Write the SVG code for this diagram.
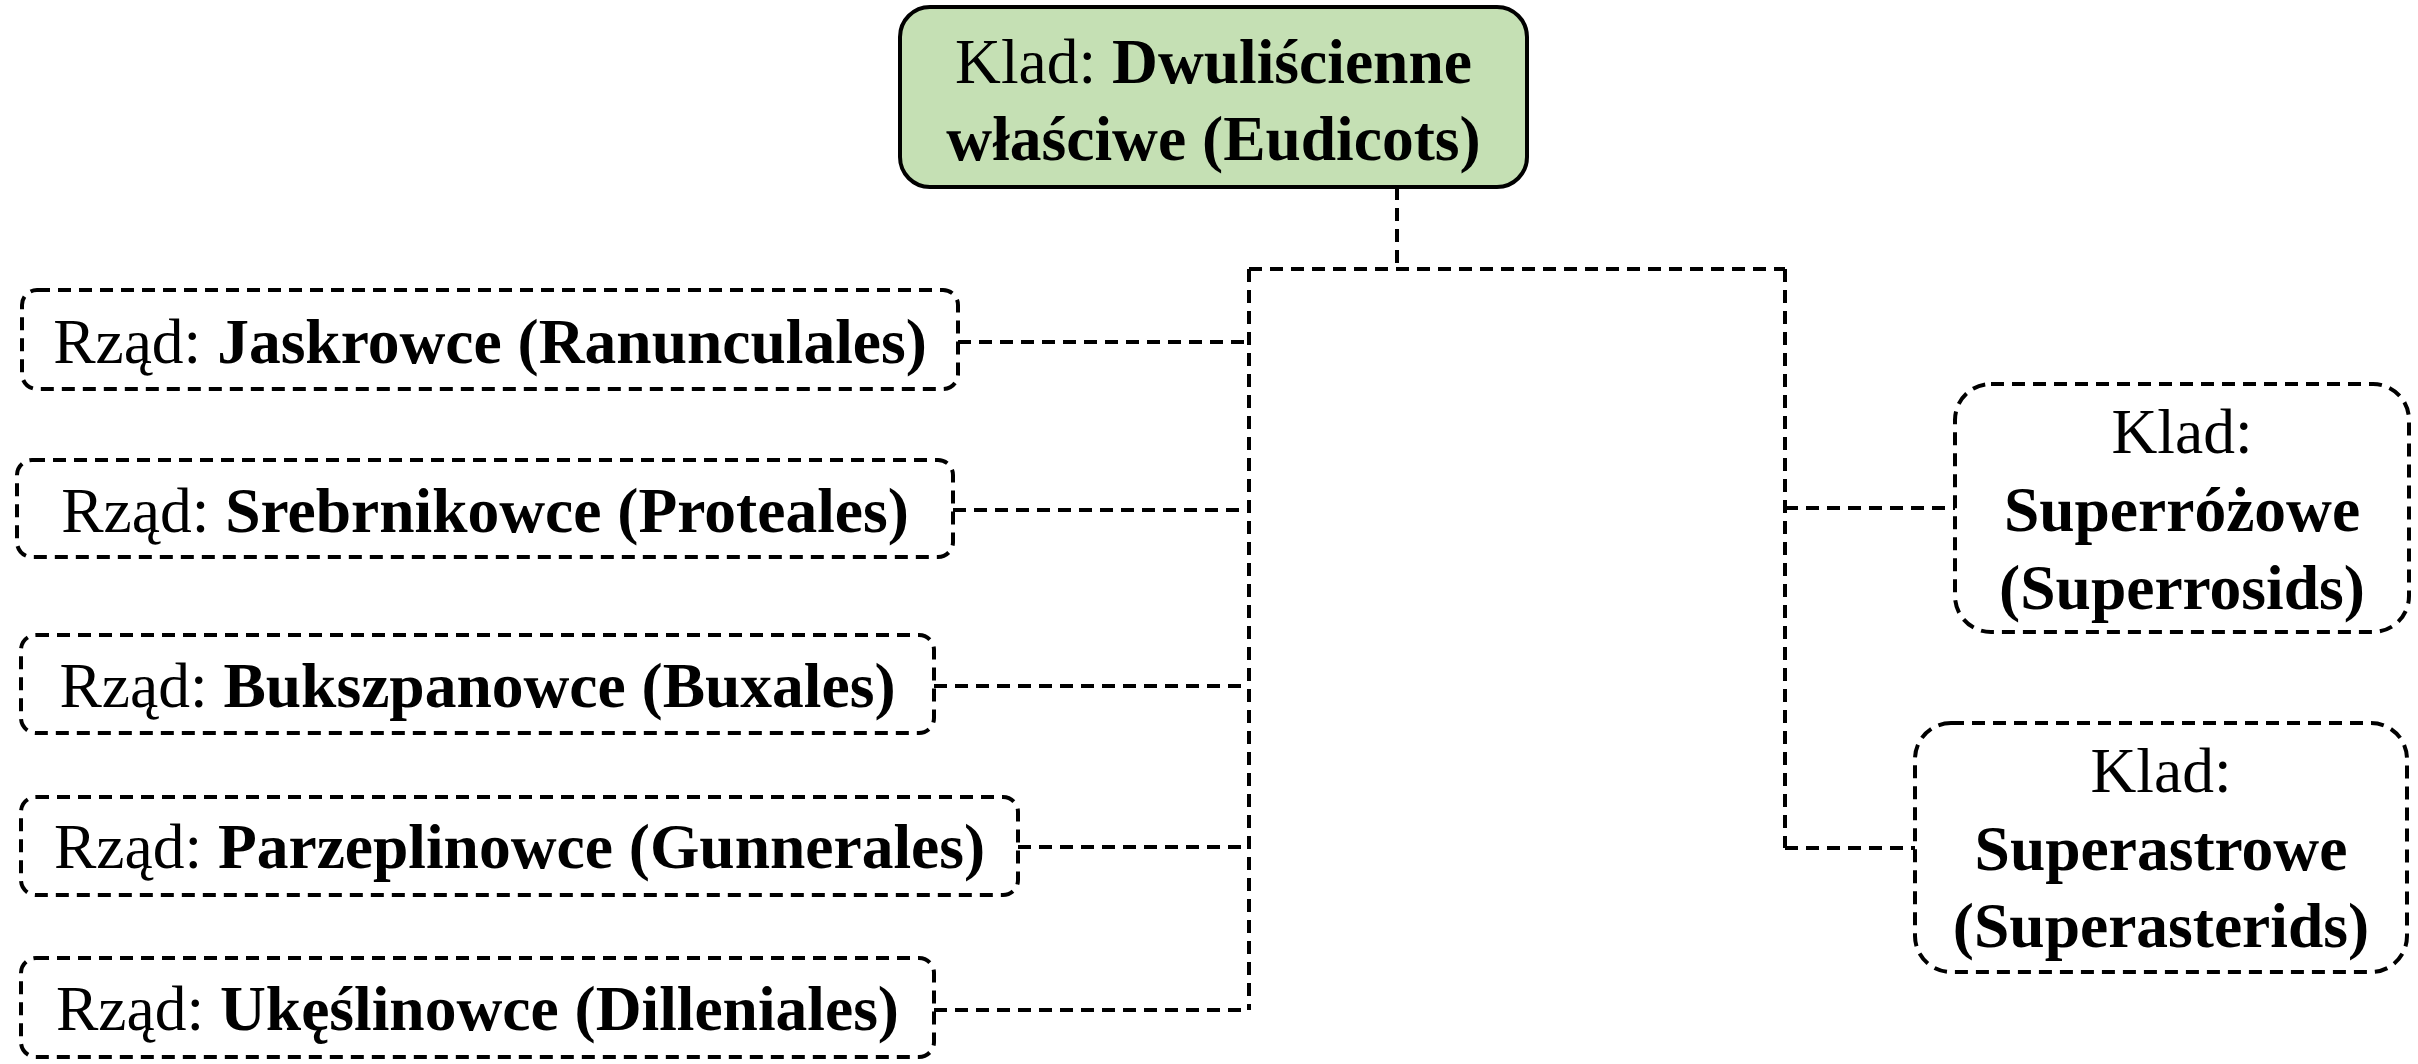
<svg xmlns="http://www.w3.org/2000/svg" width="2418" height="1064" viewBox="0 0 2418 1064">
<style>
text{font-family:"Liberation Serif","Times New Roman",serif;font-size:63.5px;fill:#000;text-anchor:middle}
.b{font-weight:bold}
.root{fill:#c5e0b4;stroke:#000;stroke-width:4}
.dn{fill:#fff;stroke:#000;stroke-width:4;stroke-dasharray:13 8}
.conn{fill:none;stroke:#000;stroke-width:4;stroke-dasharray:13 8}
</style>
<rect width="2418" height="1064" fill="#fff"/>
<g id="connectors">
<path class="conn" d="M1397 187V269"/>
<path class="conn" d="M1249 269H1785"/>
<path class="conn" d="M1249 269V1010"/>
<path class="conn" d="M958 342H1249"/>
<path class="conn" d="M953 510H1249"/>
<path class="conn" d="M934 686H1249"/>
<path class="conn" d="M1018 847H1249"/>
<path class="conn" d="M934 1010H1249"/>
<path class="conn" d="M1785 269V848"/>
<path class="conn" d="M1785 508H1955"/>
<path class="conn" d="M1785 848H1915"/>
</g>
<g id="eudicots">
<rect class="root" x="900" y="7" width="627" height="180" rx="30"/>
<text x="1213.5" y="83">Klad: <tspan class="b">Dwuliścienne</tspan></text>
<text x="1213.5" y="160" class="b">właściwe (Eudicots)</text>
</g>
<g id="ranunculales">
<rect class="dn" x="22" y="290" width="936" height="99" rx="15"/>
<text x="490" y="363">Rząd: <tspan class="b">Jaskrowce (Ranunculales)</tspan></text>
</g>
<g id="proteales">
<rect class="dn" x="17" y="460" width="936" height="97" rx="15"/>
<text x="485" y="532">Rząd: <tspan class="b">Srebrnikowce (Proteales)</tspan></text>
</g>
<g id="buxales">
<rect class="dn" x="21" y="635" width="913" height="98" rx="15"/>
<text x="477.5" y="707">Rząd: <tspan class="b">Bukszpanowce (Buxales)</tspan></text>
</g>
<g id="gunnerales">
<rect class="dn" x="21" y="797" width="997" height="98" rx="15"/>
<text x="519.5" y="868">Rząd: <tspan class="b">Parzeplinowce (Gunnerales)</tspan></text>
</g>
<g id="dilleniales">
<rect class="dn" x="21" y="958" width="913" height="99" rx="15"/>
<text x="477.5" y="1030">Rząd: <tspan class="b">Ukęślinowce (Dilleniales)</tspan></text>
</g>
<g id="superrosids">
<rect class="dn" x="1955" y="384" width="454" height="248" rx="36"/>
<text x="2182" y="453">Klad:</text>
<text x="2182" y="531" class="b">Superróżowe</text>
<text x="2182" y="609" class="b">(Superrosids)</text>
</g>
<g id="superasterids">
<rect class="dn" x="1915" y="723" width="492" height="249" rx="36"/>
<text x="2161" y="792">Klad:</text>
<text x="2161" y="870" class="b">Superastrowe</text>
<text x="2161" y="947" class="b">(Superasterids)</text>
</g>
</svg>
